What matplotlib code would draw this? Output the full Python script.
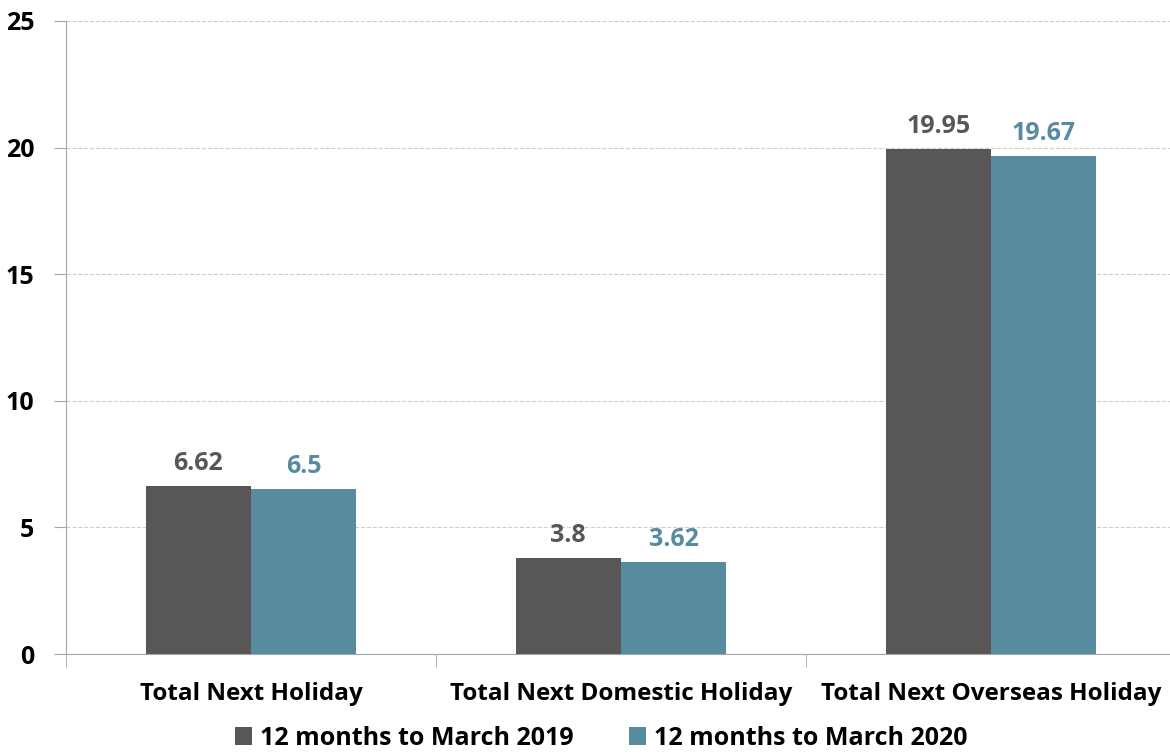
import matplotlib.pyplot as plt
import numpy as np

plt.rcParams['font.family'] = ['Open Sans', 'DejaVu Sans']

categories = ["Total Next Holiday", "Total Next Domestic Holiday", "Total Next Overseas Holiday"]
series_names = ["12 months to March 2019", "12 months to March 2020"]
vals_2019 = [6.62, 3.8, 19.95]
vals_2020 = [6.5, 3.62, 19.67]
labels_2019 = ["6.62", "3.8", "19.95"]
labels_2020 = ["6.5", "3.62", "19.67"]

c19 = '#595657'
c20 = '#588ba0'

fig = plt.figure(figsize=(11.7, 7.55), dpi=100)
ax = fig.add_axes([66/1170, 101/755, 1110/1170, 633/755])

x = np.arange(len(categories))
w = 0.285
b1 = ax.bar(x - w/2, vals_2019, w, color=c19, label=series_names[0], zorder=3)
b2 = ax.bar(x + w/2, vals_2020, w, color=c20, label=series_names[1], zorder=3)

for rect, lab in zip(b1, labels_2019):
    ax.text(rect.get_x() + rect.get_width()/2, rect.get_height() + 0.4, lab,
            ha='center', va='bottom', fontsize=18, fontweight='bold', color=c19)
for rect, lab in zip(b2, labels_2020):
    ax.text(rect.get_x() + rect.get_width()/2, rect.get_height() + 0.4, lab,
            ha='center', va='bottom', fontsize=18, fontweight='bold', color=c20)

ax.set_xlim(-0.5, 2.5)
ax.set_ylim(0, 25)
ax.set_yticks([0, 5, 10, 15, 20, 25])
ax.set_yticklabels(['0', '5', '10', '15', '20', '25'], fontsize=18, fontweight='bold')
ax.set_xticks(x)
ax.set_xticklabels(categories, fontsize=17.5, fontweight='bold')
ax.tick_params(axis='x', length=0, pad=20)
ax.set_xticks([-0.5, 0.5, 1.5, 2.5], minor=True)
ax.tick_params(axis='x', which='minor', length=9, color='#a6a6a6')
ax.tick_params(axis='y', length=9, color='#a6a6a6', pad=14)

ax.grid(axis='y', color='#cfcfcf', linestyle='--', linewidth=0.8, zorder=0)
for s in ['top', 'right']:
    ax.spines[s].set_visible(False)
ax.spines['left'].set_color('#a6a6a6')
ax.spines['bottom'].set_color('#a6a6a6')

ax.legend(loc='center', bbox_to_anchor=(0.482, -0.133), ncol=2, frameon=False,
          prop={'size': 18, 'weight': 'bold'}, handlelength=0.7, handleheight=0.7,
          handletextpad=0.3, columnspacing=2.2, borderpad=0.1)

fig.savefig("out.png", dpi=100)
